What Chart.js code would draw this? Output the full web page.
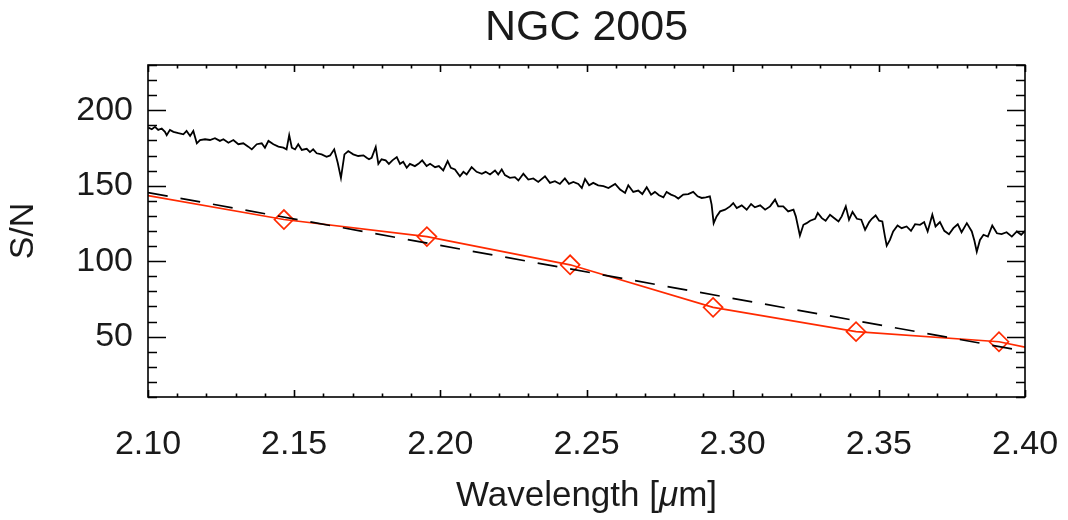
<!DOCTYPE html>
<html>
<head>
<meta charset="utf-8">
<title>NGC 2005</title>
<script src="https://cdn.jsdelivr.net/npm/chart.js@4"></script>
<style>
  body { margin: 0; background: #fff; }
  #wrap { width: 1068px; height: 520px; }
</style>
</head>
<body>
<div id="wrap"><canvas id="sn"></canvas></div>
<script>
// tick labels
const xTicks = [2.10, 2.15, 2.20, 2.25, 2.30, 2.35, 2.40];
const yTicks = [50, 100, 150, 200];

// observed spectrum S/N (black)
const specWave = [
  2.1001, 2.1013, 2.1024, 2.1035, 2.1047, 2.1058, 2.1064, 2.1075, 2.1087, 2.1104,
  2.1121, 2.1132, 2.1144, 2.1155, 2.1167, 2.1178, 2.1195, 2.1212, 2.1229, 2.1246,
  2.1258, 2.1275, 2.1292, 2.1309, 2.1326, 2.1343, 2.1355, 2.1372, 2.1389, 2.1400,
  2.1412, 2.1429, 2.1446, 2.1463, 2.1474, 2.1483, 2.1492, 2.1503, 2.1514, 2.1526,
  2.1543, 2.1554, 2.1565, 2.1577, 2.1594, 2.1611, 2.1623, 2.1637, 2.1649, 2.1660,
  2.1672, 2.1685, 2.1702, 2.1719, 2.1737, 2.1748, 2.1756, 2.1765, 2.1779, 2.1788,
  2.1799, 2.1813, 2.1824, 2.1836, 2.1851, 2.1862, 2.1873, 2.1885, 2.1896, 2.1913,
  2.1925, 2.1938, 2.1953, 2.1965, 2.1982, 2.1995, 2.2010, 2.2025, 2.2036, 2.2050,
  2.2067, 2.2079, 2.2090, 2.2107, 2.2124, 2.2142, 2.2155, 2.2170, 2.2187, 2.2198,
  2.2210, 2.2221, 2.2238, 2.2255, 2.2267, 2.2284, 2.2301, 2.2318, 2.2335, 2.2358,
  2.2375, 2.2392, 2.2409, 2.2426, 2.2440, 2.2455, 2.2472, 2.2484, 2.2495, 2.2509,
  2.2523, 2.2540, 2.2558, 2.2575, 2.2598, 2.2615, 2.2632, 2.2643, 2.2660, 2.2677,
  2.2691, 2.2706, 2.2721, 2.2734, 2.2748, 2.2763, 2.2774, 2.2789, 2.2803, 2.2814,
  2.2831, 2.2848, 2.2865, 2.2880, 2.2894, 2.2908, 2.2922, 2.2928, 2.2935, 2.2945,
  2.2957, 2.2974, 2.2991, 2.3002, 2.3014, 2.3031, 2.3048, 2.3063, 2.3076, 2.3094,
  2.3111, 2.3128, 2.3145, 2.3156, 2.3173, 2.3190, 2.3208, 2.3216, 2.3230, 2.3242,
  2.3253, 2.3265, 2.3282, 2.3291, 2.3305, 2.3318, 2.3333, 2.3348, 2.3362, 2.3373,
  2.3387, 2.3398, 2.3410, 2.3425, 2.3440, 2.3453, 2.3467, 2.3476, 2.3489, 2.3501,
  2.3512, 2.3521, 2.3527, 2.3538, 2.3549, 2.3564, 2.3578, 2.3595, 2.3610, 2.3624,
  2.3641, 2.3655, 2.3667, 2.3683, 2.3694, 2.3709, 2.3724, 2.3740, 2.3755, 2.3770,
  2.3783, 2.3801, 2.3818, 2.3827, 2.3835, 2.3846, 2.3858, 2.3873, 2.3888, 2.3904,
  2.3920, 2.3937, 2.3955, 2.3972, 2.3987, 2.4000
];
const specSN = [
  188.5, 187.4, 189.0, 187.0, 187.9, 185.7, 183.5, 187.0, 185.7, 184.8,
  184.1, 186.3, 183.0, 186.3, 178.1, 180.3, 180.8, 180.3, 181.5, 179.7,
  180.8, 178.5, 180.3, 177.5, 178.1, 175.9, 174.1, 177.5, 178.1, 175.2,
  179.7, 177.5, 175.9, 175.2, 174.1, 183.5, 175.2, 174.1, 177.5, 173.7,
  174.5, 172.3, 174.1, 171.5, 170.8, 169.2, 170.1, 174.1, 165.2, 155.2,
  170.8, 173.0, 170.8, 169.7, 170.1, 168.5, 167.5, 168.5, 175.7, 164.5,
  167.5, 166.8, 164.5, 166.8, 169.0, 164.5, 165.9, 161.9, 164.5, 163.0,
  164.5, 166.8, 163.0, 164.5, 162.3, 163.0, 160.1, 166.3, 161.9, 160.8,
  156.3, 159.2, 157.5, 162.3, 159.2, 157.9, 159.2, 157.5, 160.1, 157.5,
  160.8, 157.0, 155.2, 155.7, 153.5, 157.9, 154.1, 154.8, 152.5, 156.3,
  151.9, 153.0, 151.2, 154.8, 151.2, 152.5, 151.2, 148.5, 154.5, 150.3,
  151.9, 150.3, 149.7, 148.5, 151.2, 147.5, 145.2, 150.3, 145.9, 146.8,
  144.5, 149.0, 144.1, 145.9, 143.7, 142.3, 145.9, 144.1, 143.0, 141.5,
  144.1, 144.5, 145.9, 143.0, 141.9, 142.3, 143.0, 137.5, 125.2, 129.7,
  133.0, 134.1, 136.3, 138.5, 135.2, 137.0, 134.1, 137.9, 135.7, 137.0,
  134.1, 136.3, 140.8, 136.3, 136.3, 133.0, 134.1, 129.7, 117.0, 124.1,
  125.2, 126.8, 128.1, 131.9, 128.5, 126.8, 130.8, 128.5, 126.3, 129.7,
  136.3, 127.5, 132.6, 128.1, 127.5, 120.8, 125.9, 128.1, 130.3, 126.8,
  126.3, 116.3, 110.3, 114.1, 119.7, 123.7, 121.9, 123.0, 120.1, 124.5,
  124.1, 125.9, 119.7, 130.8, 123.0, 125.9, 120.1, 117.9, 121.9, 124.5,
  119.2, 125.2, 119.7, 113.5, 106.3, 114.1, 117.5, 116.3, 123.7, 118.5,
  117.9, 119.2, 116.3, 119.7, 117.5, 120.1
];

// measured S/N (red diamonds, line runs to the plot edges)
const redWave = [2.100, 2.1465, 2.1954, 2.2444, 2.2933, 2.3422, 2.3911, 2.400];
const redSN = [143.5, 127.6, 116.3, 97.6, 69.4, 53.3, 46.6, 43.0];

// linear fit (dashed)
const fitWave = [2.10, 2.40];
const fitSN = [145.5, 40.3];

const pairs = (xs, ys) => xs.map((x, i) => ({ x: x, y: ys[i] }));
const FONT = '"Liberation Sans", Arial, Helvetica, sans-serif';
const INK = '#1a1a1a';

Chart.defaults.font.family = FONT;

const idlFrame = {
  id: 'idlFrame',
  afterDatasetsDraw(chart) {
    const { ctx, chartArea: a, scales } = chart;
    const xs = scales.x, ys = scales.y;
    ctx.save();
    ctx.strokeStyle = '#000';
    ctx.lineWidth = 1.6;
    ctx.strokeRect(a.left, a.top, a.right - a.left, a.bottom - a.top);

    ctx.beginPath();
    // y ticks, minor every 10, major at labels
    for (let v = 10; v <= 230; v += 10) {
      const py = Math.round(ys.getPixelForValue(v)) + 0.5;
      const len = yTicks.includes(v) ? 18 : 9;
      ctx.moveTo(a.left, py); ctx.lineTo(a.left + len, py);
      ctx.moveTo(a.right, py); ctx.lineTo(a.right - len, py);
    }
    // x ticks, minor every 0.01
    for (let i = 0; i <= 30; i++) {
      const w = 2.10 + i * 0.01;
      const px = Math.round(xs.getPixelForValue(w)) + 0.5;
      const len = i % 5 === 0 ? 7 : 3.5;
      ctx.moveTo(px, a.bottom); ctx.lineTo(px, a.bottom - len);
      ctx.moveTo(px, a.top); ctx.lineTo(px, a.top + len);
    }
    ctx.stroke();
    ctx.restore();
  },
  afterDraw(chart) {
    const { ctx, chartArea: a } = chart;
    const cx = (a.left + a.right) / 2;
    ctx.save();
    ctx.fillStyle = INK;
    ctx.textBaseline = 'alphabetic';

    ctx.font = '43px ' + FONT;
    ctx.textAlign = 'center';
    ctx.fillText('NGC 2005', cx, 40);

    // x title with italic mu
    const parts = [['Wavelength [', ''], ['\u03bc', 'italic '], ['m]', '']];
    let total = 0;
    parts.forEach(p => { ctx.font = p[1] + '35px ' + FONT; total += ctx.measureText(p[0]).width; });
    let x = cx - total / 2;
    ctx.textAlign = 'left';
    parts.forEach(p => {
      ctx.font = p[1] + '35px ' + FONT;
      ctx.fillText(p[0], x, 506);
      x += ctx.measureText(p[0]).width;
    });

    ctx.translate(33, (a.top + a.bottom) / 2);
    ctx.rotate(-Math.PI / 2);
    ctx.font = '34px ' + FONT;
    ctx.textAlign = 'center';
    ctx.fillText('S/N', 0, 0);
    ctx.restore();
  }
};

new Chart(document.getElementById('sn'), {
  type: 'line',
  data: {
    datasets: [
      {
        label: 'spectrum',
        data: pairs(specWave, specSN),
        borderColor: '#000',
        borderWidth: 1.8,
        pointRadius: 0,
        tension: 0
      },
      {
        label: 'fit',
        data: pairs(fitWave, fitSN),
        borderColor: '#000',
        borderWidth: 1.7,
        borderDash: [20, 13],
        pointRadius: 0
      },
      {
        label: 'measured',
        data: pairs(redWave, redSN),
        borderColor: '#ff2a00',
        borderWidth: 1.7,
        pointStyle: 'rectRot',
        pointRadius: [0, 9.5, 9.5, 9.5, 9.5, 9.5, 9.5, 0],
        pointBorderWidth: 1.7,
        pointBorderColor: '#ff2a00',
        pointBackgroundColor: 'rgba(0,0,0,0)'
      }
    ]
  },
  options: {
    responsive: true,
    maintainAspectRatio: false,
    animation: false,
    layout: { padding: { top: 65, right: 43, bottom: 0, left: 0 } },
    plugins: {
      legend: { display: false },
      tooltip: { enabled: false }
    },
    scales: {
      x: {
        type: 'linear',
        min: 2.10,
        max: 2.40,
        grid: { display: false, drawTicks: false },
        border: { display: false },
        afterBuildTicks: s => { s.ticks = xTicks.map(v => ({ value: v })); },
        afterFit: s => { s.height = 123; s.paddingLeft = 0; s.paddingRight = 0; },
        ticks: {
          font: { size: 34 },
          color: INK,
          padding: 27,
          maxRotation: 0,
          callback: v => v.toFixed(2)
        }
      },
      y: {
        min: 10,
        max: 230,
        grid: { display: false, drawTicks: false },
        border: { display: false },
        afterBuildTicks: s => { s.ticks = yTicks.map(v => ({ value: v })); },
        afterFit: s => { s.width = 148; s.paddingTop = 0; s.paddingBottom = 0; },
        ticks: {
          font: { size: 34 },
          color: INK,
          padding: 15,
          callback: v => String(v)
        }
      }
    }
  },
  plugins: [idlFrame]
});
</script>
</body>
</html>
